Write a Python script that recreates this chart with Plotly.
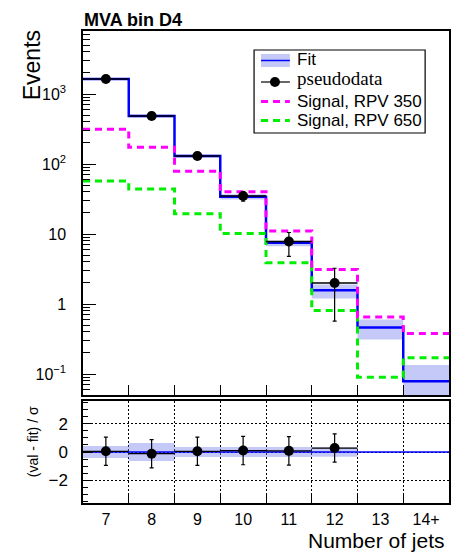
import plotly.graph_objects as go

# ---------------- data ----------------
bin_labels = ["7", "8", "9", "10", "11", "12", "13", "14+"]
bin_centers = [7, 8, 9, 10, 11, 12, 13, 14]
fit = [1640, 485, 130, 34, 7.5, 1.57, 0.46, 0.079]
fit_lo = [1590, 462, 123, 31, 6.7, 1.2, 0.31, 0.035]
fit_hi = [1690, 508, 137, 37, 8.0, 1.9, 0.6, 0.135]
rpv350 = [313, 173, 79, 40, 11, 3.1, 0.65, 0.38]
rpv650 = [57, 44, 19.5, 10.2, 3.9, 0.81, 0.09, 0.17]
data_x = [7, 8, 9, 10, 11, 12]
data_y = [1640, 485, 130, 35, 7.8, 2.0]
data_err_up = [40, 22, 11, 5.5, 2.7, 1.24]
data_err_dn = [40, 22, 11, 5.5, 3.0, 1.43]
pull = [0.05, -0.12, 0.05, 0.1, 0.08, 0.28]
pull_err = [1.0, 1.0, 1.0, 1.0, 1.0, 1.0]
pull_band = [0.43, 0.63, 0.35, 0.35, 0.35, 0.33]

BLUE = "#0000ff"
BAND = "rgba(110,120,235,0.40)"
MAG = "#ff00ff"
GRN = "#00ee00"
FONT = "Liberation Sans"

W, H = 452, 553
L, R, T, B = 83, 1, 31, 50
PW, PH = W - L - R, H - T - B


def px(x):
    return (x - L) / PW


def py(y):
    return (H - B - y) / PH


def step(centers, vals):
    xs = [c - 0.5 for c in centers] + [centers[-1] + 0.5]
    ys = list(vals) + [vals[-1]]
    return xs, ys


fig = go.Figure()

# fit band (main)
bx, blo = step(bin_centers, fit_lo)
_, bhi = step(bin_centers, fit_hi)
fig.add_trace(go.Scatter(x=bx, y=blo, mode="lines", line=dict(width=0, shape="hv"),
                         showlegend=False, hoverinfo="skip", xaxis="x", yaxis="y"))
fig.add_trace(go.Scatter(x=bx, y=bhi, mode="lines", line=dict(width=0, shape="hv"),
                         fill="tonexty", fillcolor=BAND, showlegend=False,
                         hoverinfo="skip", xaxis="x", yaxis="y"))
# fit line
fx, fy = step(bin_centers, fit)
fig.add_trace(go.Scatter(x=fx, y=fy, mode="lines", line=dict(color=BLUE, width=2.5, shape="hv"),
                         showlegend=False, xaxis="x", yaxis="y"))
# signals
sx, sy = step(bin_centers, rpv650)
fig.add_trace(go.Scatter(x=sx, y=sy, mode="lines",
                         line=dict(color=GRN, width=3, shape="hv", dash="7px,5px"),
                         showlegend=False, xaxis="x", yaxis="y"))
sx, sy = step(bin_centers, rpv350)
fig.add_trace(go.Scatter(x=sx, y=sy, mode="lines",
                         line=dict(color=MAG, width=3, shape="hv", dash="7px,5px"),
                         showlegend=False, xaxis="x", yaxis="y"))
# pseudodata
fig.add_trace(go.Scatter(x=data_x, y=data_y, mode="markers",
                         marker=dict(color="black", size=10),
                         error_x=dict(type="constant", value=0.5, width=0, thickness=1.5, color="black"),
                         error_y=dict(type="data", array=data_err_up, arrayminus=data_err_dn,
                                      width=2, thickness=1.2, color="black"),
                         showlegend=False, xaxis="x", yaxis="y"))

# ratio band
rx, rlo = step(data_x, [-b for b in pull_band])
_, rhi = step(data_x, pull_band)
fig.add_trace(go.Scatter(x=rx, y=rlo, mode="lines", line=dict(width=0, shape="hv"),
                         showlegend=False, hoverinfo="skip", xaxis="x2", yaxis="y2"))
fig.add_trace(go.Scatter(x=rx, y=rhi, mode="lines", line=dict(width=0, shape="hv"),
                         fill="tonexty", fillcolor=BAND, showlegend=False,
                         hoverinfo="skip", xaxis="x2", yaxis="y2"))
zx, zy = step(bin_centers, [0] * len(bin_centers))
fig.add_trace(go.Scatter(x=zx, y=zy, mode="lines", line=dict(color=BLUE, width=1.5, shape="hv"),
                         showlegend=False, xaxis="x2", yaxis="y2"))
fig.add_trace(go.Scatter(x=data_x, y=pull, mode="markers",
                         marker=dict(color="black", size=10),
                         error_x=dict(type="constant", value=0.5, width=0, thickness=1.2, color="black"),
                         error_y=dict(type="data", array=pull_err, width=2, thickness=1.2, color="black"),
                         showlegend=False, xaxis="x2", yaxis="y2"))

edges_inner = [c + 0.5 for c in bin_centers[:-1]]
minor_log = [k * 10 ** n for n in range(-2, 4) for k in range(2, 10)]

fig.update_layout(
    width=W, height=H,
    margin=dict(l=L, r=R, t=T, b=B),
    paper_bgcolor="white", plot_bgcolor="white",
    font=dict(family=FONT, color="black"),
    showlegend=False,
    xaxis=dict(domain=[0, 1], anchor="y", range=[6.5, 14.5], matches="x2",
               tickmode="array", tickvals=edges_inner, showticklabels=False,
               ticks="inside", ticklen=10, tickwidth=1.2, tickcolor="black",
               showline=True, linecolor="black", linewidth=1.5, mirror=True,
               showgrid=False, zeroline=False),
    yaxis=dict(domain=[py(395), 1], anchor="x", type="log", range=[-1.3, 3.9],
               tickmode="array", tickvals=[0.1, 1, 10, 100, 1000],
               ticktext=["10<sup>\u22121</sup>", "1", "10", "10<sup>2</sup>", "10<sup>3</sup>"],
               ticks="inside", ticklen=13, tickwidth=1.2, tickcolor="black",
               minor=dict(tickmode="array", tickvals=minor_log, ticks="inside",
                          ticklen=7, tickwidth=1, tickcolor="black", showgrid=False),
               tickfont=dict(size=16), ticklabelstandoff=12,
               showline=True, linecolor="black", linewidth=1.5, mirror=True,
               showgrid=False, zeroline=False),
    xaxis2=dict(domain=[0, 1], anchor="y2", range=[6.5, 14.5],
                tickmode="array", tickvals=bin_centers, ticktext=bin_labels,
                ticks="", tickfont=dict(size=16), ticklabelstandoff=1,
                minor=dict(tickmode="array", tickvals=edges_inner, ticks="inside",
                           ticklen=9, tickwidth=1.2, tickcolor="black",
                           showgrid=True, griddash="2px,2px", gridcolor="black", gridwidth=1.2),
                showline=True, linecolor="black", linewidth=1.5, mirror=True,
                showgrid=False, zeroline=False),
    yaxis2=dict(domain=[0, py(401)], anchor="x2", range=[-3.6, 3.6],
                tickmode="array", tickvals=[-2, 0, 2], ticktext=["\u22122", "0", "2"],
                ticks="inside", ticklen=10, tickwidth=1.2, tickcolor="black",
                minor=dict(dtick=0.5, tick0=0, ticks="inside", ticklen=5,
                           tickwidth=1, tickcolor="black", showgrid=False),
                showgrid=True, griddash="2px,2px", gridcolor="black", gridwidth=1.2,
                tickfont=dict(size=17), ticklabelstandoff=10,
                showline=True, linecolor="black", linewidth=1.5, mirror=True,
                zeroline=False),
)

shapes = []
anns = []
# legend box
shapes.append(dict(type="rect", xref="paper", yref="paper",
                   x0=px(255), x1=px(427), y0=py(133), y1=py(50),
                   line=dict(color="black", width=1.2), fillcolor="white", layer="above"))
# Fit swatch
shapes.append(dict(type="rect", xref="paper", yref="paper",
                   x0=px(262), x1=px(291), y0=py(67), y1=py(54),
                   line=dict(width=0), fillcolor=BAND, layer="above"))
shapes.append(dict(type="line", xref="paper", yref="paper",
                   x0=px(262), x1=px(291), y0=py(60.5), y1=py(60.5),
                   line=dict(color=BLUE, width=1.5), layer="above"))
# pseudodata swatch
shapes.append(dict(type="line", xref="paper", yref="paper",
                   x0=px(262), x1=px(291), y0=py(82), y1=py(82),
                   line=dict(color="black", width=1.2), layer="above"))
shapes.append(dict(type="circle", xref="paper", yref="paper",
                   x0=px(271), x1=px(281), y0=py(87), y1=py(77),
                   line=dict(color="black", width=0), fillcolor="black", layer="above"))
# signal swatches
shapes.append(dict(type="line", xref="paper", yref="paper",
                   x0=px(262), x1=px(291), y0=py(101.5), y1=py(101.5),
                   line=dict(color=MAG, width=3, dash="7px,5px"), layer="above"))
shapes.append(dict(type="line", xref="paper", yref="paper",
                   x0=px(262), x1=px(291), y0=py(120.5), y1=py(120.5),
                   line=dict(color=GRN, width=3, dash="7px,5px"), layer="above"))

def txt(text, x, y, size, xanchor="left", yanchor="middle", angle=0, family=FONT):
    anns.append(dict(text=text, xref="paper", yref="paper", x=px(x), y=py(y),
                     xanchor=xanchor, yanchor=yanchor, showarrow=False, textangle=angle,
                     font=dict(family=family, size=size, color="black")))

txt("Fit", 296, 59.5, 17)
txt("pseudodata", 296, 78.5, 19, family="Liberation Serif")
txt("Signal, RPV 350", 296, 101, 17)
txt("Signal, RPV 650", 296, 120, 17)
txt("<b>MVA bin D4</b>", 82, 20, 18)
txt("Events", 32, 65, 23, xanchor="center", angle=-90)
txt("(val - fit) / \u03c3", 33, 442, 14, xanchor="center", angle=-90)
txt("Number of jets", 449, 540.5, 21, xanchor="right")

fig.update_layout(shapes=shapes, annotations=anns)
fig.write_html("out.html")
